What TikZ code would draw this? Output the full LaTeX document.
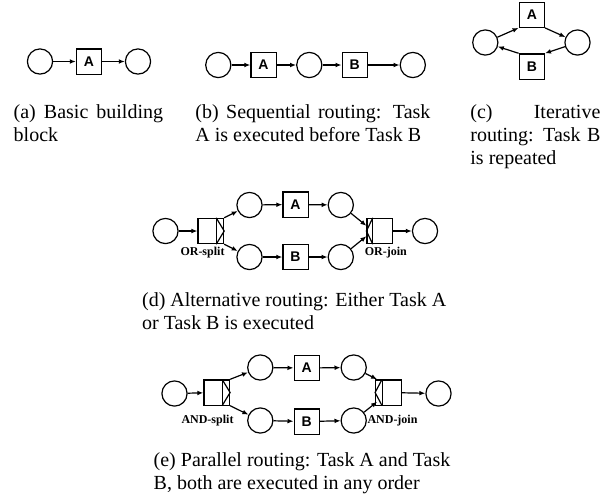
\documentclass[tikz,border=0pt]{standalone}
\usepackage{fontspec}
\setmainfont{Liberation Serif}
\newfontfamily\boxfont{Liberation Sans}
\usetikzlibrary{arrows.meta}
\begin{document}
\begin{tikzpicture}[x=0.5pt,y=-0.5pt,
  placenode/.style={circle,draw,line width=0.6pt,minimum size=12.6pt,inner sep=0pt},
  tasknode/.style={rectangle,draw,line width=0.6pt,minimum size=12.6pt,inner sep=0pt,font=\boxfont\bfseries\fontsize{7}{8}\selectfont},
  transnode/.style={rectangle,draw,line width=0.6pt,minimum width=12.8pt,minimum height=12.6pt,inner sep=0pt},
  conn/.style={line width=0.6pt,-{Latex[length=3pt,width=2.4pt]}},
  divline/.style={line width=0.6pt},
  lbl/.style={font=\bfseries\fontsize{6}{7}\selectfont,inner sep=0pt},
  captxt/.style={anchor=base west,inner sep=0pt,align=left,font=\fontsize{10}{11.5}\selectfont}
]
\useasboundingbox (0,0) rectangle (608,500);

% (a)
\node[placenode] (a1) at (40,61.5) {};
\node[tasknode]  (aA) at (89,61.5) {A};
\node[placenode] (a2) at (138,61.5) {};
\draw[conn] (a1) -- (aA);
\draw[conn] (aA) -- (a2);
\node[captxt] (capa) at (13.3,141) {\makebox[74.7pt][s]{(a) Basic building}\\block};

% (b)
\node[placenode] (b1) at (218.3,65) {};
\node[tasknode]  (bA) at (263.5,65) {A};
\node[placenode] (b2) at (309.3,65) {};
\node[tasknode]  (bB) at (354.7,65) {B};
\node[placenode] (b3) at (412.8,65) {};
\draw[conn] (b1) -- (bA);
\draw[conn] (bA) -- (b2);
\draw[conn] (b2) -- (bB);
\draw[conn] (bB) -- (b3);
\node[captxt] (capb) at (195,141) {\makebox[117.5pt][s]{(b) Sequential routing: Task}\\A is executed before Task B};

% (c)
\node[tasknode]  (cA) at (531.8,14.7) {A};
\node[tasknode]  (cB) at (531.8,66.5) {B};
\node[placenode] (cl) at (485.3,42.5) {};
\node[placenode] (cr) at (577.5,42.5) {};
\draw[conn] (cl) -- (cA.south west);
\draw[conn] (cA.south east) -- (cr);
\draw[conn] (cr) -- (cB.north east);
\draw[conn] (cB.north west) -- (cl);
\node[captxt] (capc) at (470,164) {\makebox[65pt][s]{(c) Iterative}\\\makebox[65pt][s]{routing: Task B}\\is repeated};

% (d)
\node[placenode] (d0) at (165.5,231) {};
\node[transnode] (ds) at (210.8,231) {};
\node[placenode] (du1) at (249.5,205) {};
\node[tasknode]  (dA) at (295.5,204.5) {A};
\node[placenode] (du2) at (340.8,205) {};
\node[placenode] (dl1) at (249.5,257) {};
\node[tasknode]  (dB) at (295.5,257) {B};
\node[placenode] (dl2) at (340.8,257) {};
\node[transnode] (dj) at (379.8,231) {};
\node[placenode] (d9) at (425,231) {};
\draw[divline] ([xshift=-4pt]ds.north east) -- ([xshift=-4pt]ds.south east);
\draw[divline] ([xshift=-4pt]ds.north east) -- (ds.east) -- ([xshift=-4pt]ds.south east);
\draw[divline] ([xshift=3.2pt]dj.north west) -- ([xshift=3.2pt]dj.south west);
\draw[divline] ([xshift=3.2pt]dj.north west) -- (dj.west) -- ([xshift=3.2pt]dj.south west);
\draw[conn] (d0) -- (ds);
\draw[conn] (ds.north east) -- (du1);
\draw[conn] (ds.south east) -- (dl1);
\draw[conn] (du1) -- (dA);
\draw[conn] (dA) -- (du2);
\draw[conn] (dl1) -- (dB);
\draw[conn] (dB) -- (dl2);
\draw[conn] (du2) -- ([yshift=-4pt]dj.north west);
\draw[conn] (dl2) -- ([yshift=4pt]dj.south west);
\draw[conn] (dj) -- (d9);
\node[lbl] (dsl) at (202.5,253) {OR-split};
\node[lbl] (djl) at (385.8,253) {OR-join};
\node[captxt] (capd) at (141.7,329) {(d) Alternative routing: Either Task A\\or Task B is executed};

% (e)
\node[placenode] (e0) at (174.5,393.5) {};
\node[transnode] (es) at (216.7,392.5) {};
\node[placenode] (eu1) at (260.3,367.5) {};
\node[tasknode]  (eA) at (306.7,368) {A};
\node[placenode] (eu2) at (353.7,367.5) {};
\node[placenode] (el1) at (260.3,420.5) {};
\node[tasknode]  (eB) at (306.7,421.5) {B};
\node[placenode] (el2) at (353.7,420.5) {};
\node[transnode] (ej) at (388.5,392.5) {};
\node[placenode] (e9) at (438.5,393.5) {};
\draw[divline] ([xshift=-4pt]es.north east) -- ([xshift=-4pt]es.south east);
\draw[divline] ([xshift=-4pt]es.north east) -- (es.east) -- ([xshift=-4pt]es.south east);
\draw[divline] ([xshift=3.5pt]ej.north west) -- ([xshift=3.5pt]ej.south west);
\draw[divline] ([xshift=3.5pt]ej.north west) -- (ej.west) -- ([xshift=3.5pt]ej.south west);
\draw[conn] (e0) -- (es);
\draw[conn] (es.north east) -- (eu1);
\draw[conn] (es.south east) -- (el1);
\draw[conn] (eu1) -- (eA);
\draw[conn] (eA) -- (eu2);
\draw[conn] (el1) -- (eB);
\draw[conn] (eB) -- (el2);
\draw[conn] (eu2) -- ([xshift=1pt]ej.north west);
\draw[conn] (el2) -- ([xshift=1pt,yshift=2pt]ej.south west);
\draw[conn] (ej) -- (e9);
\node[lbl] (esl) at (207.5,420.5) {AND-split};
\node[lbl] (ejl) at (392.5,420.5) {AND-join};
\node[captxt] (cape) at (153.3,489) {(e) Parallel routing: Task A and Task\\B, both are executed in any order};
\end{tikzpicture}
\end{document}
